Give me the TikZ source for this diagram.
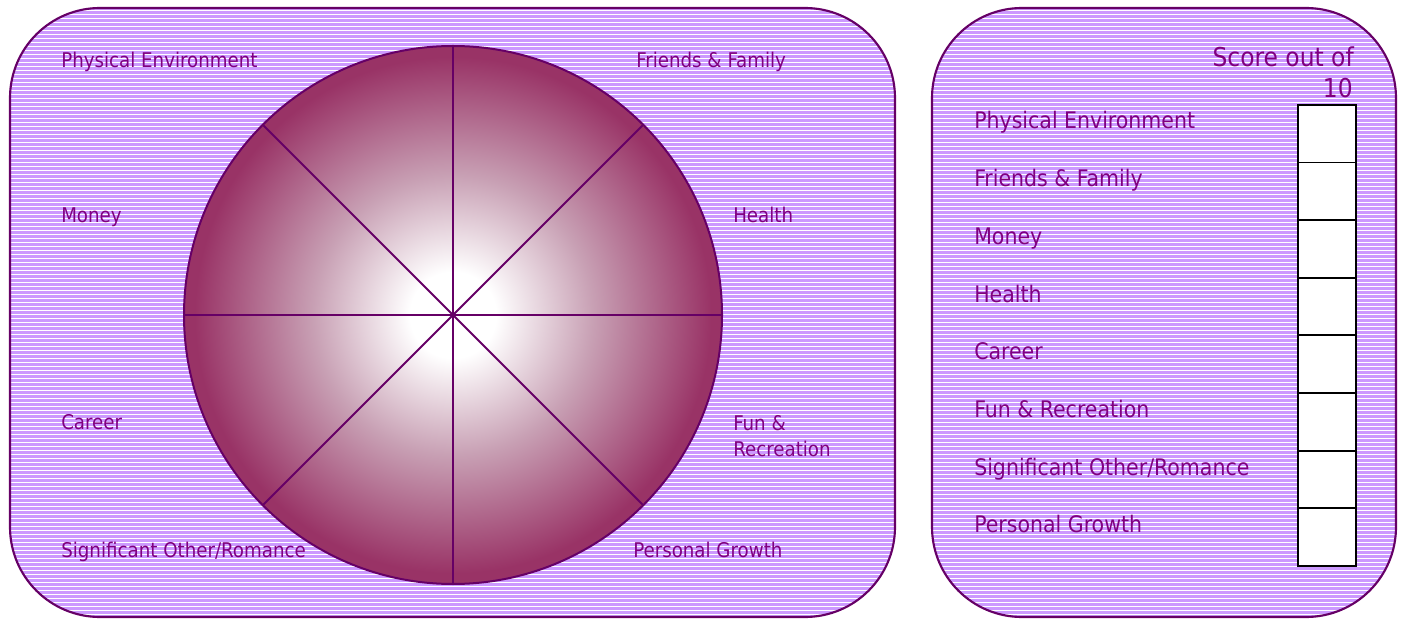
\documentclass[tikz,border=0pt]{standalone}
\usepackage{fontspec}
\setmainfont{DejaVu Sans Condensed}
\definecolor{lav}{RGB}{204,153,255}
\definecolor{edgepurple}{RGB}{102,0,102}
\definecolor{wheelred}{RGB}{153,51,102}
\definecolor{wheelmid}{RGB}{200,160,180}
\definecolor{txt}{RGB}{128,0,128}
% white centre fading to deep rose at the rim (25bp is the rim)
\pgfdeclareradialshading{wheelshade}{\pgfpoint{0bp}{0bp}}{%
  color(0bp)=(white); color(4bp)=(white); color(13bp)=(wheelmid);
  color(24bp)=(wheelred); color(50bp)=(wheelred)}
\begin{document}
\begin{tikzpicture}[x=0.75pt,y=-0.75pt,
  panelline/.style={draw=edgepurple, line width=1.6pt},
  stripe/.style={draw=white, line width=0.75pt},
  lbl/.style={anchor=base west, text=txt, inner sep=0pt, font=\fontsize{15.2}{19}\selectfont},
  rlbl/.style={anchor=base west, text=txt, inner sep=0pt, font=\fontsize{17.1}{21}\selectfont},
  headlbl/.style={anchor=base east, text=txt, inner sep=0pt, font=\fontsize{19.5}{23}\selectfont},
  spoke/.style={draw=edgepurple, line width=1.5pt},
  scorebox/.style={draw=black, fill=white, line width=1.4pt, anchor=north west,
    minimum width=43.5pt, minimum height=43.2pt, inner sep=0pt}]
\useasboundingbox (0,0) rectangle (1403,620);

% striped panels
\foreach \xa/\xb in {10/895, 932/1396}{
  \begin{scope}
    \clip[rounded corners=67.5pt] (\xa,8) rectangle (\xb,617);
    \fill[lav] (\xa,8) rectangle (\xb,617);
    \foreach \yy in {10.5,14.5,...,618}
      \path[stripe] (\xa,\yy) -- (\xb,\yy);
  \end{scope}
  \path[panelline, rounded corners=67.5pt] (\xa,8) rectangle (\xb,617);
}

% the wheel
\node[circle, shading=wheelshade, minimum size=403.5pt, inner sep=0pt] (wheel) at (453,315) {};
\foreach \a in {0,45,90,135}
  \path[spoke] (wheel.\a) -- (wheel.center) -- (wheel.{\a+180});
\node[circle, draw=edgepurple, line width=1.5pt, minimum size=403.5pt, inner sep=0pt] (rim) at (453,315) {};

% wheel labels
\node[lbl] (lPE) at (61,68) {Physical Environment};
\node[lbl] (lFF) at (636,68) {Friends \& Family};
\node[lbl] (lMo) at (61,223) {Money};
\node[lbl] (lHe) at (733,223) {Health};
\node[lbl] (lCa) at (61,429) {Career};
\node[lbl] (lFu) at (733,430) {Fun \&};
\node[lbl] (lRe) at (733,456) {Recreation};
\node[lbl] (lSO) at (61,557) {Significant Other/Romance};
\node[lbl] (lPG) at (633,557) {Personal Growth};

% score sheet
\node[headlbl] (head1) at (1354,67) {Score out of};
\node[headlbl] (head2) at (1353,98) {10};
\foreach \t [count=\i from 0] in {Physical Environment, Friends \& Family, Money, Health,
    Career, Fun \& Recreation, Significant Other/Romance, Personal Growth}{
  \node[rlbl] (item\i) at (974,{129+57.7*\i}) {\t};
  \node[scorebox] (box\i) at (1297,{104+57.625*\i}) {};
}
\end{tikzpicture}
\end{document}
